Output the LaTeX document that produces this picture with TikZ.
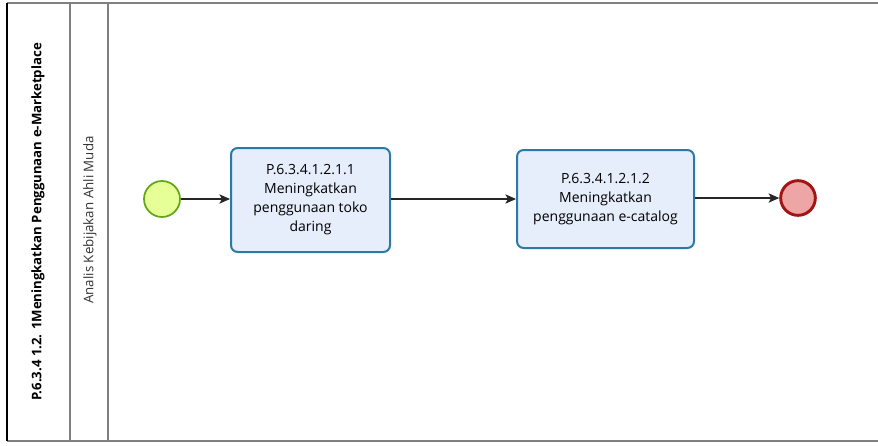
\documentclass[tikz,border=0pt]{standalone}
\usepackage{fontspec}
\setmainfont{Open Sans}
\usepackage{xcolor}
\usetikzlibrary{arrows.meta, positioning, calc}
\definecolor{startfill}{HTML}{E6FF97}
\definecolor{startline}{HTML}{62A716}
\definecolor{endfill}{HTML}{EEA5A5}
\definecolor{endline}{HTML}{A31515}
\definecolor{taskfill}{HTML}{E6EDFB}
\definecolor{taskline}{HTML}{2B7AA6}
\definecolor{laneline}{HTML}{808080}

\begin{document}
\begin{tikzpicture}[
		x=0.75pt, y=-0.75pt,
		font=\fontsize{10.5}{14.2}\selectfont,
		task/.style={rectangle, draw=taskline, fill=taskfill, line width=1.5pt, rounded corners=5pt, align=center, inner sep=0pt},
		startev/.style={circle, draw=startline, fill=startfill, line width=1.3pt, minimum size=27pt, inner sep=0pt},
		endev/.style={circle, draw=endline, fill=endfill, line width=2.2pt, minimum size=26pt, inner sep=0pt},
		flow/.style={draw=black!85, line width=0.8pt, -{Stealth[length=8pt, width=7pt, inset=2pt, fill=black!85]}},
		]
		\useasboundingbox (0,0) rectangle (878,446);
		
		% --- Pool and Lane ---
		\draw[laneline, line width=0.8pt] (7,3) -- (880,3);
		\draw[laneline, line width=0.8pt] (7,441) -- (880,441);
		\draw[black, line width=0.8pt] (7,3) -- (7,441);
		\draw[laneline, line width=0.8pt] (70,3) -- (70,441);
		\draw[laneline, line width=0.8pt] (108,3) -- (108,441);
		\node[rotate=90, font=\fontsize{9.9}{12}\selectfont\bfseries] (pool) at (38,222) {P.6.3.4 1.2. 1Meningkatkan Penggunaan e-Marketplace};
		\node[rotate=90, font=\fontsize{10}{12}\selectfont, text=black!80] (lane) at (90,220) {Analis Kebijakan Ahli Muda};
		
		% --- Events and Tasks ---
		\node[startev] (start) at (162,199) {};
		\node[task, minimum width=119.25pt, minimum height=78pt] (task1) at (310.5,200) {P.6.3.4.1.2.1.1\\Meningkatkan\\penggunaan toko\\daring};
		\node[task, minimum width=132.75pt, minimum height=73.5pt] (task2) at (605.5,199) {P.6.3.4.1.2.1.2\\Meningkatkan\\penggunaan e-catalog};
		\node[endev] (end) at (798,198) {};
		
		% --- Sequence Flows ---
		\draw[flow] (start) -- (start -| task1.west);
		\draw[flow] (task1.east |- 0,199) -- (task2.west |- 0,199);
		\draw[flow] (task2.east |- end) -- (end);
		
	\end{tikzpicture}
\end{document}
